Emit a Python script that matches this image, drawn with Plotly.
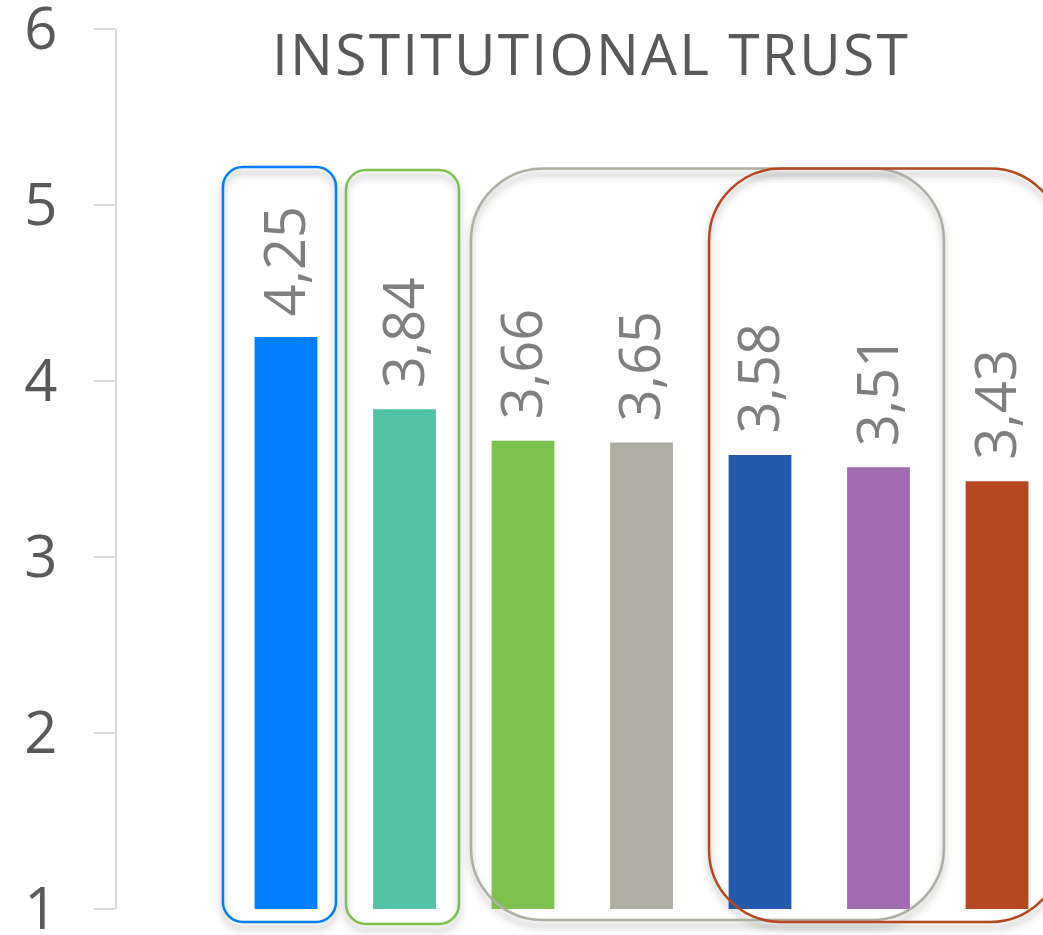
import plotly.graph_objects as go

# ---- data ----
categories = ["A", "B", "C", "D", "E", "F", "G"]
values = [4.25, 3.84, 3.66, 3.65, 3.58, 3.51, 3.43]
bar_colors = ["#0080FF", "#53C2A8", "#7DC24F", "#AEAFA2", "#235BAA", "#A06BB0", "#B54821"]
tick_vals = [1, 2, 3, 4, 5, 6]
tick_text = ["1", "2", "3", "4", "5", "6"]
title_text = "INSTITUTIONAL TRUST"

# group outlines: (x0, x1, y0, y1) in category / value units, colour, corner radius px
groups = [
    (-0.532, 0.422, 0.926, 5.216, "#0080FF", 20),
    (0.506, 1.460, 0.915, 5.199, "#7DC24F", 20),
    (1.561, 5.552, 0.937, 5.207, "#AEAFA2", 72),
    (3.570, 6.550, 0.926, 5.207, "#B54821", 72),
]

W, H = 1043, 935
ML, MR, MT, MB = 117, 0, 29, 26
PW, PH = W - ML - MR, H - MT - MB
XMIN, XMAX = -1.426, 6.388
YMIN, YMAX = 1, 6

FONT = "Open Sans"
DARK = "#595959"
LABEL = "#7F7F7F"
AXIS = "#D9D9D9"

fig = go.Figure()
fig.add_trace(go.Bar(
    x=list(range(len(categories))),
    y=values,
    marker=dict(color=bar_colors, line=dict(width=0)),
    width=0.53,
    hovertext=categories,
    showlegend=False,
))

# value labels
for i, v in enumerate(values):
    fig.add_annotation(
        x=i, y=v, xref="x", yref="y",
        text=f"{v:.2f}".replace(".", ","),
        textangle=-90, showarrow=False,
        xanchor="center", yanchor="bottom",
        yshift=19, xshift=-3,
        font=dict(family=FONT, size=56, color=LABEL),
    )


def px_x(xd):
    return (xd - XMIN) / (XMAX - XMIN)


def px_y(yd):
    return (yd - YMIN) / (YMAX - YMIN)


def rrect(x0, x1, y0, y1, rpx, dy=0.0):
    k = 0.5523
    X0, X1 = px_x(x0), px_x(x1)
    Y0, Y1 = px_y(y0) + dy, px_y(y1) + dy
    rx, ry = rpx / PW, rpx / PH
    p = [
        f"M{X0 + rx},{Y0}",
        f"L{X1 - rx},{Y0}",
        f"C{X1 - rx + k * rx},{Y0} {X1},{Y0 + ry - k * ry} {X1},{Y0 + ry}",
        f"L{X1},{Y1 - ry}",
        f"C{X1},{Y1 - ry + k * ry} {X1 - rx + k * rx},{Y1} {X1 - rx},{Y1}",
        f"L{X0 + rx},{Y1}",
        f"C{X0 + rx - k * rx},{Y1} {X0},{Y1 - ry + k * ry} {X0},{Y1 - ry}",
        f"L{X0},{Y0 + ry}",
        f"C{X0},{Y0 + ry - k * ry} {X0 + rx - k * rx},{Y0} {X0 + rx},{Y0}",
        "Z",
    ]
    return " ".join(p)


shapes = []
# soft shadows
for (x0, x1, y0, y1, col, r) in groups:
    for w, a in [(16, 0.02), (10, 0.03), (5, 0.035)]:
        shapes.append(dict(type="path", xref="paper", yref="paper",
                           path=rrect(x0, x1, y0, y1, r, dy=-6 / PH),
                           line=dict(color=f"rgba(0,0,0,{a})", width=w),
                           layer="below"))
for (x0, x1, y0, y1, col, r) in groups:
    shapes.append(dict(type="path", xref="paper", yref="paper",
                       path=rrect(x0, x1, y0, y1, r),
                       line=dict(color=col, width=2.5),
                       layer="above"))

fig.update_layout(
    width=W, height=H,
    margin=dict(l=ML, r=MR, t=MT, b=MB, pad=0, autoexpand=False),
    paper_bgcolor="white",
    plot_bgcolor="rgba(0,0,0,0)",
    bargap=0.47,
    showlegend=False,
    shapes=shapes,
    title=dict(
        text=f'<span style="letter-spacing:2.2px">{title_text}</span>',
        x=591 / W, xref="container", xanchor="center",
        y=1 - 55 / H, yref="container", yanchor="middle",
        font=dict(family=FONT, size=57, color=DARK),
    ),
    xaxis=dict(
        range=[XMIN, XMAX], automargin=False,
        showline=False, showgrid=False, zeroline=False,
        showticklabels=False, ticks="",
    ),
    yaxis=dict(
        range=[YMIN, YMAX], automargin=False,
        tickvals=tick_vals, ticktext=tick_text,
        showline=True, linecolor=AXIS, linewidth=2,
        ticks="outside", ticklen=21, tickwidth=2, tickcolor=AXIS,
        ticklabelstandoff=25, ticklabeloverflow="allow",
        showgrid=False, zeroline=False,
        tickfont=dict(family=FONT, size=58, color=DARK),
    ),
)

fig.write_html(
    "out.html",
    config={"displayModeBar": False},
    post_script="document.body.style.margin='0';document.body.style.overflow='hidden';",
)
